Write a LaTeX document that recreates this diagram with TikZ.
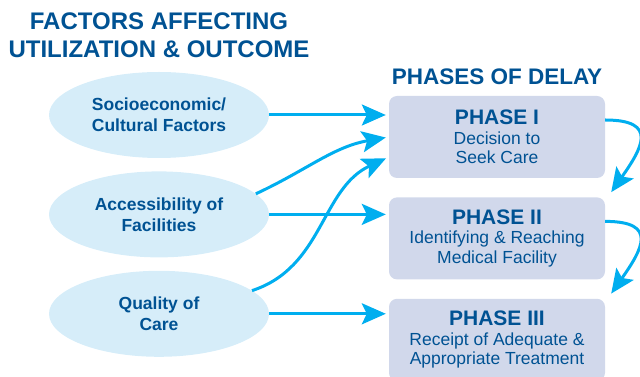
\documentclass[tikz,border=0pt]{standalone}
\usepackage{fontspec}
\setmainfont{Liberation Sans}
\usetikzlibrary{arrows.meta, positioning, shapes.geometric}

\definecolor{navy}{RGB}{0,82,147}
\definecolor{flowcyan}{RGB}{0,174,239}
\definecolor{factorfill}{RGB}{214,237,249}
\definecolor{phasefill}{RGB}{209,216,235}

\begin{document}
\begin{tikzpicture}[x=1pt, y=1pt,
	factor/.style={ellipse, fill=factorfill, minimum width=220pt, minimum height=86pt, inner sep=0pt,
		text=navy, align=center, font=\bfseries\fontsize{17.5}{21}\selectfont},
	phase/.style={rounded corners=8pt, fill=phasefill, minimum width=216pt, minimum height=82pt, inner sep=0pt,
		text=navy, align=center, font=\fontsize{17.5}{19.5}\selectfont},
	heading/.style={inner sep=0pt, text=navy, align=center, font=\bfseries\fontsize{24}{28}\selectfont},
	flow/.style={line width=3pt, draw=flowcyan, -{Stealth[length=24pt, width=21pt, inset=5pt]}}]

				\useasboundingbox (0,0) rectangle (640,377);

				% left column: factors
				\node[heading, anchor=north] (facttitle) at (159,364) {FACTORS AFFECTING\\UTILIZATION \& OUTCOME};

				\node[factor] (fac1) at (159,262) {Socioeconomic/\\Cultural Factors};
				\node[factor, below=13pt of fac1] (fac2) {Accessibility of\\Facilities};
				\node[factor, below=13pt of fac2] (fac3) {Quality of\\Care};

				% right column: phases
				\node[phase] (p1) at (497,240) {{\bfseries\fontsize{21}{21}\selectfont PHASE I}\\Decision to\\Seek Care};
				\node[phase, below=19pt of p1] (p2) {{\bfseries\fontsize{21}{21}\selectfont PHASE II}\\Identifying \& Reaching\\Medical Facility};
				\node[phase, below=19pt of p2] (p3) {{\bfseries\fontsize{21}{21}\selectfont PHASE III}\\Receipt of Adequate \&\\Appropriate Treatment};

				\node[heading, font=\bfseries\fontsize{22.5}{26}\selectfont, above=11pt of p1] (phasetitle) {PHASES OF DELAY};

				% factors -> phases
				\draw[flow, shorten >=3pt] (fac1) -- (fac1 -| p1.west);
				\draw[flow, shorten >=3pt] (fac2) -- (fac2 -| p2.west);
				\draw[flow, shorten >=3pt] (fac3) -- (fac3 -| p3.west);

				\draw[flow, shorten >=3pt] (fac2.12) to[out=25, in=190] (p1.west);
				\draw[flow, shorten >=3pt] (fac3.14) to[out=18, in=205] ([yshift=-20pt]p1.west);

				% phase -> next phase
				\draw[flow] ([yshift=17pt]p1.east) to[out=0, in=55, looseness=1.9] ([xshift=6pt, yshift=5pt]p2.north east);
				\draw[flow] ([yshift=17pt]p2.east) to[out=0, in=55, looseness=1.9] ([xshift=6pt, yshift=5pt]p3.north east);

			\end{tikzpicture}
\end{document}
